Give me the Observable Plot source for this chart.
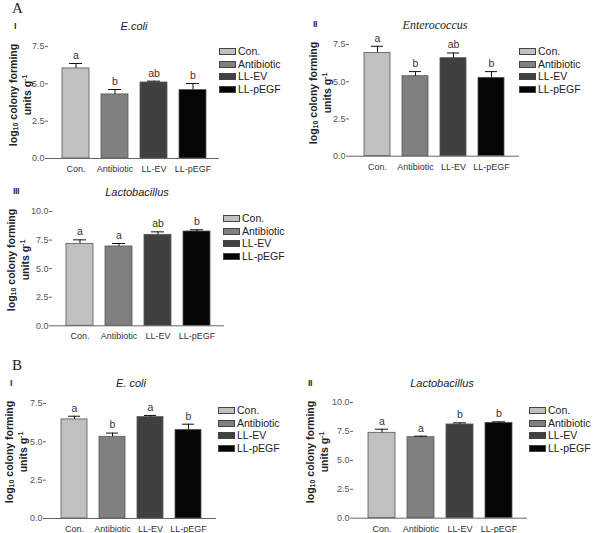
<!DOCTYPE html>
<html><head><meta charset="utf-8">
<script src="https://cdn.jsdelivr.net/npm/d3@7"></script>
<script src="https://cdn.jsdelivr.net/npm/@observablehq/plot@0.6"></script>
<style>
body{margin:0;background:#fff;}
#fig{position:relative;width:600px;height:533px;font-family:"Liberation Sans",Arial,sans-serif;overflow:hidden;background:#fff;}
.abs{position:absolute;white-space:nowrap;}
.panelLetter{font-family:"Liberation Serif",serif;font-size:15px;color:#222;line-height:15px;}
.roman{font-family:"Liberation Sans",Arial,sans-serif;font-weight:bold;font-size:9px;color:#333;line-height:10px;letter-spacing:-0.5px;}
.title{font-style:italic;font-size:11px;color:#222;line-height:12px;transform:translateX(-50%);}
.ylab{font-weight:bold;font-size:10.5px;color:#222;line-height:14px;text-align:center;transform:translate(-50%,-50%) rotate(-90deg);}
.ylab sub{font-size:7px;vertical-align:-1px;line-height:0;}
.ylab sup{font-size:7px;vertical-align:4px;line-height:0;}
.leg{font-size:10.5px;color:#222;line-height:12.7px;}
.leg .row{display:flex;align-items:center;height:12.7px;}
.leg .sw{width:17px;height:7px;border:1px solid #444;margin-right:2px;box-sizing:border-box;}
</style></head><body><div id="fig"></div>
<script>
const groups = ["Con.", "Antibiotic", "LL-EV", "LL-pEGF"];
const groupColors = ["#c0c0c0", "#808080", "#404040", "#050505"];

const aEcoliMean = [6.03, 4.29, 5.09, 4.58];
const aEcoliErr = [0.33, 0.33, 0.09, 0.44];
const aEcoliLetters = ["a", "b", "ab", "b"];

const aEnteroMean = [6.93, 5.37, 6.58, 5.26];
const aEnteroErr = [0.45, 0.31, 0.35, 0.42];
const aEnteroLetters = ["a", "b", "ab", "b"];

const aLactoMean = [7.17, 6.94, 7.96, 8.25];
const aLactoErr = [0.35, 0.26, 0.26, 0.15];
const aLactoLetters = ["a", "a", "ab", "b"];

const bEcoliMean = [6.46, 5.33, 6.61, 5.78];
const bEcoliErr = [0.21, 0.24, 0.11, 0.37];
const bEcoliLetters = ["a", "b", "a", "b"];

const bLactoMean = [7.38, 7.00, 8.10, 8.24];
const bLactoErr = [0.31, 0.09, 0.14, 0.09];
const bLactoLetters = ["a", "a", "b", "b"];

const ticks75 = [0, 2.5, 5, 7.5];
const ticks10 = [0, 2.5, 5, 7.5, 10];

const fig = document.getElementById("fig");
function addDiv(cls, html, left, top) {
  const d = document.createElement("div");
  d.className = "abs " + cls;
  d.innerHTML = html;
  d.style.left = left + "px";
  d.style.top = top + "px";
  fig.appendChild(d);
  return d;
}

function panel(cfg) {
  const data = groups.map((g, i) => ({g, m: cfg.mean[i], e: cfg.err[i], l: cfg.letters[i]}));
  const top = cfg.yTop - 12;
  const mb = 22;
  const svg = Plot.plot({
    width: cfg.axisRight - cfg.left + 2,
    height: (cfg.yZero - top) + mb,
    marginLeft: cfg.axisX - cfg.left,
    marginRight: 2,
    marginTop: cfg.yTop - top,
    marginBottom: mb,
    x: {domain: groups, paddingInner: 0.31, paddingOuter: 0.34, label: null},
    y: {domain: [0, cfg.yMax], label: null},
    color: {domain: groups, range: groupColors},
    style: {fontFamily: "Liberation Sans, Arial, sans-serif", fontSize: "9px", background: "transparent", overflow: "visible", color: "#444"},
    marks: [
      Plot.barY(data, {x: "g", y: "m", fill: "g", stroke: "#555", strokeWidth: 0.8}),
      Plot.ruleX(data, {x: "g", y1: "m", y2: d => d.m + d.e, stroke: "#111", strokeWidth: 1}),
      Plot.tickY(data, {x: "g", y: d => d.m + d.e, insetLeft: 7, insetRight: 7, stroke: "#111", strokeWidth: 1}),
      Plot.text(data, {x: "g", y: d => d.m + d.e, text: "l", dy: -8, fontSize: 10.5, fill: "#333"}),
      Plot.axisY({ticks: cfg.ticks, tickFormat: d3.format(".1f"), tickSize: 3, tickPadding: 1, line: true, stroke: "#666", fill: "#555", label: null}),
      Plot.ruleY([0], {stroke: "#666"}),
      Plot.axisX({tickSize: 0, tickPadding: 7, fill: "#333", label: null})
    ]
  });
  svg.style.position = "absolute";
  svg.style.left = cfg.left + "px";
  svg.style.top = top + "px";
  fig.appendChild(svg);

  const t = addDiv("title", cfg.title, cfg.titleX, cfg.titleY);
  if (cfg.serifTitle) { t.style.fontFamily = '"Liberation Serif", serif'; t.style.fontSize = "12px"; }
  addDiv("roman", cfg.roman, cfg.romanX, cfg.romanY);
  addDiv("ylab", "log<sub>10</sub> colony forming<br>units g<sup>-1</sup>", cfg.labX, cfg.labY);

  const leg = addDiv("leg", "", cfg.legX, cfg.legY);
  groups.forEach((g, i) => {
    const r = document.createElement("div");
    r.className = "row";
    r.innerHTML = `<div class="sw" style="background:${groupColors[i]}"></div><span>${g}</span>`;
    leg.appendChild(r);
  });
}

addDiv("panelLetter", "A", 12, 1);
addDiv("panelLetter", "B", 12, 358);

panel({mean: aEcoliMean, err: aEcoliErr, letters: aEcoliLetters, ticks: ticks75, yMax: 7.5,
  left: 0, axisX: 48, axisRight: 219, yTop: 46, yZero: 158,
  title: "E.coli", titleX: 134, titleY: 20, roman: "I", romanX: 14, romanY: 21,
  labX: 20, labY: 95, legX: 219, legY: 45});

panel({mean: aEnteroMean, err: aEnteroErr, letters: aEnteroLetters, ticks: ticks75, yMax: 7.5,
  left: 300, axisX: 349, axisRight: 519, yTop: 44.3, yZero: 156,
  title: "Enterococcus", serifTitle: true, titleX: 435, titleY: 19, roman: "II", romanX: 313, romanY: 19,
  labX: 320, labY: 93, legX: 519, legY: 45});

panel({mean: aLactoMean, err: aLactoErr, letters: aLactoLetters, ticks: ticks10, yMax: 10,
  left: 0, axisX: 52, axisRight: 224, yTop: 211, yZero: 325.3,
  title: "Lactobacillus", titleX: 137, titleY: 186, roman: "III", romanX: 13, romanY: 186,
  labX: 18, labY: 260, legX: 223, legY: 212});

panel({mean: bEcoliMean, err: bEcoliErr, letters: bEcoliLetters, ticks: ticks75, yMax: 7.5,
  left: 0, axisX: 46, axisRight: 216, yTop: 402.7, yZero: 517.7,
  title: "E. coli", titleX: 131, titleY: 377, roman: "I", romanX: 10, romanY: 378,
  labX: 16, labY: 452, legX: 218, legY: 404});

panel({mean: bLactoMean, err: bLactoErr, letters: bLactoLetters, ticks: ticks10, yMax: 10,
  left: 300, axisX: 353, axisRight: 527, yTop: 402, yZero: 517.7,
  title: "Lactobacillus", titleX: 442, titleY: 377, roman: "II", romanX: 308, romanY: 378,
  labX: 317, labY: 452, legX: 529, legY: 404});
</script>
</body></html>
